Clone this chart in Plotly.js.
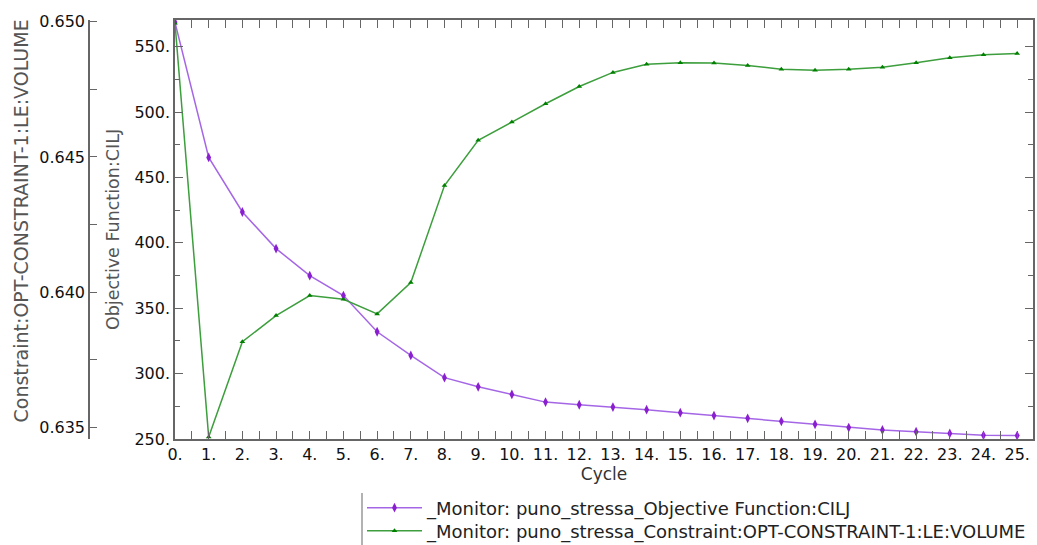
<!DOCTYPE html>
<html>
<head>
<meta charset="utf-8">
<script src="https://cdn.plot.ly/plotly-3.0.1.min.js"></script>
<style>html,body{margin:0;padding:0;background:#fff;}#chart{width:1037px;height:545px;}</style>
</head>
<body>
<div id="chart"></div>
<script>
const cycles = [0,1,2,3,4,5,6,7,8,9,10,11,12,13,14,15,16,17,18,19,20,21,22,23,24,25];
const objectiveCILJ = [568.6,465.3,423.6,395.6,374.9,359.7,332.0,313.9,296.9,289.9,284.1,278.2,276.2,274.4,272.4,270.1,267.9,265.8,263.5,261.2,258.7,256.9,255.6,254.3,252.8,252.6];
const constraintVol = [0.64995,0.63463,0.63816,0.63913,0.63987,0.63973,0.63919,0.64035,0.64394,0.64562,0.64629,0.64697,0.64761,0.64813,0.64843,0.64849,0.64848,0.64839,0.64825,0.64821,0.64825,0.64832,0.64849,0.64867,0.64878,0.64883];
const objName = "_Monitor: puno_stressa_Objective Function:CILJ";
const conName = "_Monitor: puno_stressa_Constraint:OPT-CONSTRAINT-1:LE:VOLUME";
const objTitle = "Objective Function:CILJ";
const conTitle = "Constraint:OPT-CONSTRAINT-1:LE:VOLUME";
const xTitle = "Cycle";

const W = 1037, H = 545;
const mL = 0, mR = 4, mT = 20, mB = 106;
const pw = W - mL - mR;
const ph = H - mT - mB;
const font = "DejaVu Sans, Verdana, sans-serif";
const axisCol = "#666666";

const traces = [
  {x: cycles, y: objectiveCILJ, name: objName, type: "scatter", mode: "lines+markers",
   line: {color: "#a566e6", width: 1.5},
   marker: {symbol: "diamond-tall", size: 7, color: "#8a1fd0"},
   yaxis: "y", legend: "legend"},
  {x: cycles, y: constraintVol, name: conName, type: "scatter", mode: "lines+markers",
   line: {color: "#3c9e3c", width: 1.5},
   marker: {symbol: "triangle-up", size: 5, color: "#008000"},
   yaxis: "y2", legend: "legend2"}
];

const legBase = {xref: "paper", yref: "container", xanchor: "left", yanchor: "middle",
  font: {family: font, size: 18, color: "#222"}, itemwidth: 55,
  bgcolor: "rgba(0,0,0,0)", borderwidth: 0};

const layout = {
  width: W, height: H,
  margin: {l: mL, r: mR, t: mT, b: mB},
  paper_bgcolor: "#ffffff", plot_bgcolor: "#ffffff",
  font: {family: font, size: 16, color: "#111111"},
  showlegend: true,
  legend: Object.assign({}, legBase, {x: 362/pw, y: (H - 508)/H}),
  legend2: Object.assign({}, legBase, {x: 362/pw, y: (H - 531)/H}),
  xaxis: {domain: [175/pw, 1], range: [0, 25.47], tickmode: "linear", tick0: 0, dtick: 1,
          ticksuffix: ".", ticks: "inside", ticklen: 8, tickcolor: axisCol, tickwidth: 1,
          minor: {dtick: 0.5, ticks: "inside", ticklen: 4, tickcolor: axisCol},
          showline: true, linecolor: axisCol, linewidth: 1.5, mirror: "allticks",
          showgrid: false, zeroline: false,
          tickfont: {size: 16, color: "#111"},
          title: {text: xTitle, font: {size: 17, color: "#333"}, standoff: 5}},
  yaxis: {range: [250, 570.4], tickmode: "linear", tick0: 0, dtick: 50, ticksuffix: ".",
          ticks: "inside", ticklen: 8, tickcolor: axisCol, tickwidth: 1,
          minor: {dtick: 25, ticks: "inside", ticklen: 5, tickcolor: axisCol},
          showline: true, linecolor: axisCol, linewidth: 1.5, mirror: "allticks",
          showgrid: false, zeroline: false,
          tickfont: {size: 16, color: "#111"},
          title: {text: objTitle, font: {size: 17.5, color: "#555"}, standoff: 10}},
  yaxis2: {overlaying: "y", anchor: "free", position: 89/pw, side: "left",
           range: [0.63456, 0.65007], tickmode: "linear", tick0: 0.635, dtick: 0.005,
           tickformat: ".3f", ticks: "inside", ticklen: 7, tickcolor: axisCol, tickwidth: 1,
           minor: {dtick: 0.0025, ticks: "inside", ticklen: 7, tickcolor: axisCol},
           showline: true, linecolor: axisCol, linewidth: 1.5,
           showgrid: false, zeroline: false,
           tickfont: {size: 16, color: "#111"}},
  annotations: [
    {text: conTitle, xref: "paper", yref: "paper", x: 20/pw, y: (H - mB - 425)/ph,
     xanchor: "center", yanchor: "bottom", textangle: -90, showarrow: false,
     font: {family: font, size: 19, color: "#555"}}
  ],
  shapes: [
    {type: "line", xref: "paper", yref: "paper", x0: 362/pw, x1: 362/pw,
     y0: -(493 - (H - mB))/ph, y1: -(545 - (H - mB))/ph,
     line: {color: "#999", width: 1.5}}
  ]
};

Plotly.newPlot("chart", traces, layout, {displayModeBar: false, responsive: false});
</script>
</body>
</html>
